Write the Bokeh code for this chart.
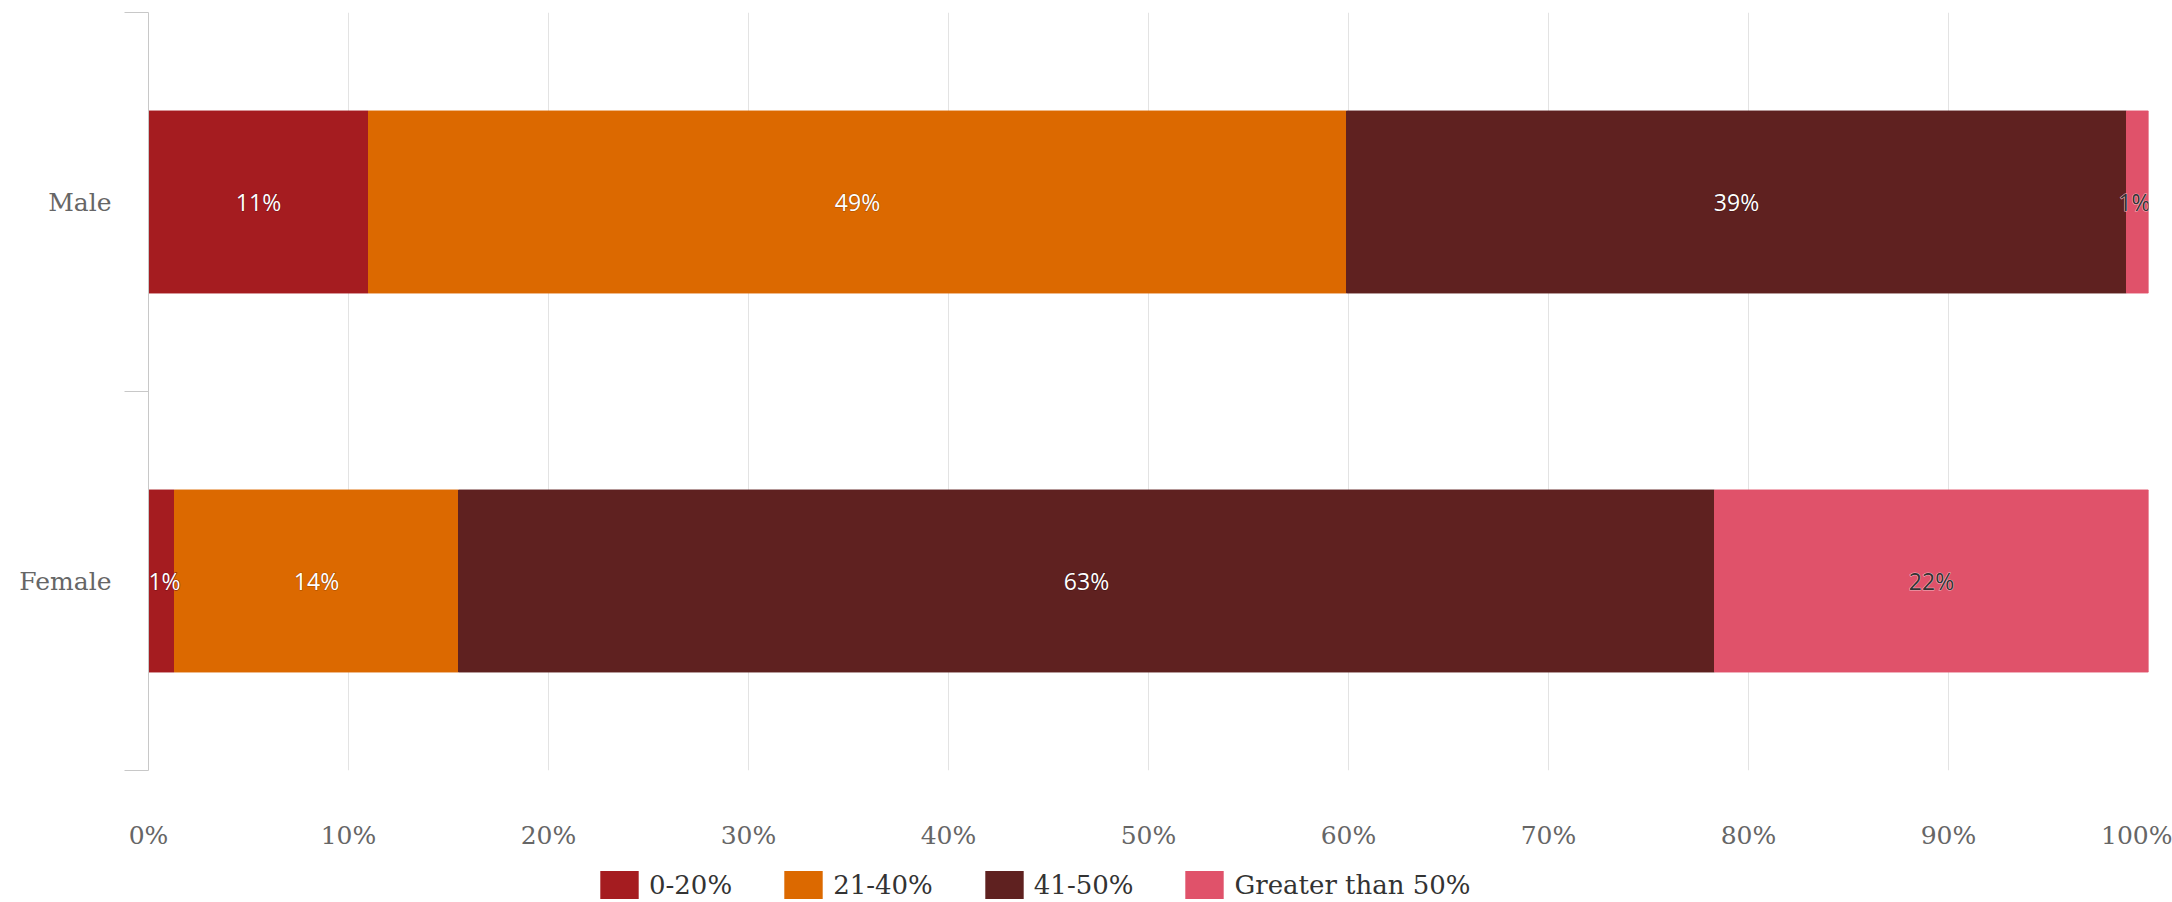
import numpy as np
from bokeh.plotting import figure
from bokeh.layouts import column
from bokeh.models import (ColumnDataSource, Range1d, FixedTicker, PrintfTickFormatter,
                          Legend, LegendItem)
from bokeh.core.properties import value
from bokeh.embed import file_html
from bokeh.resources import INLINE

# ---- data ----
categories = ["Male", "Female"]
series_names = ["0-20%", "21-40%", "41-50%", "Greater than 50%"]
share_0_20 = [11.0, 1.3]
share_21_40 = [48.9, 14.2]
share_41_50 = [39.0, 62.8]
share_over_50 = [1.1, 21.7]
x_ticks = [0, 10, 20, 30, 40, 50, 60, 70, 80, 90, 100]

# ---- styles ----
colors = ["#a51c20", "#dc6900", "#5f2120", "#e0526a"]
label_colors = ["#ffffff", "#ffffff", "#ffffff", "#333333"]
label_halos = ["#7a1216", "#a84e00", "#3f1212", "#f2b3bf"]

series = [share_0_20, share_21_40, share_41_50, share_over_50]
n = len(categories)
ypos = [n - i - 0.5 for i in range(n)]
keys = [f"s{i}" for i in range(len(series))]

data = dict(y=ypos, cat=categories)
for k, vals in zip(keys, series):
    data[k] = vals
src = ColumnDataSource(data)

p = figure(width=2172, height=854, x_range=Range1d(0, 100), y_range=Range1d(0, n),
           output_backend="svg", toolbar_location=None,
           min_border_left=148, min_border_right=24, min_border_top=12,
           min_border_bottom=84, outline_line_color=None)

renderers = p.hbar_stack(keys, y="y", height=0.48, color=colors, source=src)

# data labels
vals = np.array(series, dtype=float)
ends = np.cumsum(vals, axis=0)
centers = ends - vals / 2.0
lx, ly, lt, lc, lo = [], [], [], [], []
for s in range(vals.shape[0]):
    for c in range(n):
        lx.append(float(min(max(centers[s, c], 0.8), 99.3)))
        ly.append(ypos[c])
        lt.append(f"{int(round(vals[s, c]))}%")
        lc.append(label_colors[s])
        lo.append(label_halos[s])
lab_src = ColumnDataSource(dict(x=lx, y=ly, t=lt, c=lc, o=lo))
label_kw = dict(x="x", y="y", text="t", source=lab_src,
                text_font=value("Open Sans"), text_font_size="23px",
                text_align="center", text_baseline="middle")
# halo layer behind, then the label itself
p.text(text_color="o", text_outline_color="o", **label_kw)
p.text(text_color="c", **label_kw)

# x axis
p.xaxis.ticker = FixedTicker(ticks=x_ticks)
p.xaxis.formatter = PrintfTickFormatter(format="%d%%")
p.xaxis.axis_line_color = None
p.xaxis.major_tick_line_color = None
p.xaxis.minor_tick_line_color = None
p.xaxis.major_tick_out = 0
p.xaxis.major_label_standoff = 50
p.xaxis.major_label_text_font = "DejaVu Serif"
p.xaxis.major_label_text_font_size = "25px"
p.xaxis.major_label_text_color = "#666666"
p.xgrid.ticker = FixedTicker(ticks=x_ticks)
p.xgrid.grid_line_color = "#e3e3e3"
p.ygrid.grid_line_color = None

# y axis (category labels, boundary ticks)
boundaries = [float(i) for i in range(n + 1)]
p.yaxis.ticker = FixedTicker(ticks=ypos, minor_ticks=boundaries)
p.yaxis.major_label_overrides = {ypos[i]: categories[i] for i in range(n)}
p.yaxis.major_tick_line_color = None
p.yaxis.major_tick_out = 0
p.yaxis.major_tick_in = 0
p.yaxis.minor_tick_out = 24
p.yaxis.minor_tick_in = 0
p.yaxis.minor_tick_line_color = "#c8c8c8"
p.yaxis.axis_line_color = "#c8c8c8"
p.yaxis.major_label_standoff = 13
p.yaxis.major_label_text_font = "DejaVu Serif"
p.yaxis.major_label_text_font_size = "25px"
p.yaxis.major_label_text_color = "#666666"

# legend strip below the chart (swatch renderers have zero width, so draw nothing)
lf = figure(width=2172, height=48, x_range=Range1d(0, 1), y_range=Range1d(0, 1),
            output_backend="svg", toolbar_location=None, min_border=0,
            outline_line_color=None, x_axis_type=None, y_axis_type=None)
lf.grid.visible = False
legend_renderers = [lf.hbar(y=[0.5], left=[0], right=[0], height=0.5,
                            fill_color=col, line_color=col, line_alpha=0)
                    for col in colors]
legend = Legend(items=[LegendItem(label=name, renderers=[r], index=0)
                       for name, r in zip(series_names, legend_renderers)],
                location=(447, 0), orientation="horizontal",
                glyph_width=48, glyph_height=35, label_standoff=6, spacing=47,
                padding=3, margin=0, border_line_color=None, background_fill_alpha=0,
                label_text_font="DejaVu Serif", label_text_font_size="26px",
                label_text_color="#333333", label_height=35)
lf.add_layout(legend, "center")

layout = column(p, lf, spacing=0)
open("out.html", "w").write(file_html(layout, INLINE))
